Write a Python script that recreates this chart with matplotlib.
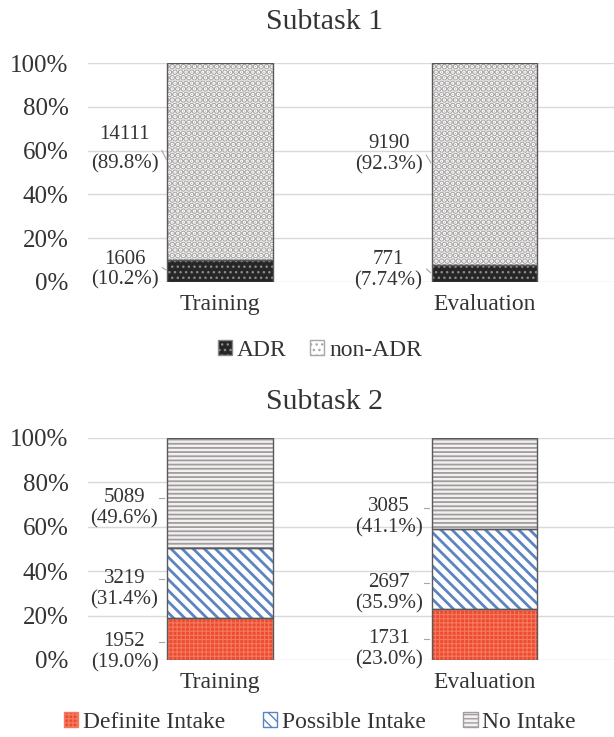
import numpy as np
import matplotlib
matplotlib.use("Agg")
import matplotlib.pyplot as plt
from matplotlib.patches import Patch
from matplotlib.ticker import PercentFormatter
from matplotlib.transforms import offset_copy

plt.rcParams['font.family'] = ['Liberation Serif', 'DejaVu Serif']

# Data
splits = ['Training', 'Evaluation']

# Subtask 1
adr_counts = [1606, 771]
nonadr_counts = [14111, 9190]
adr_pct = ['10.2%', '7.74%']
nonadr_pct = ['89.8%', '92.3%']

# Subtask 2
definite_counts = [1952, 1731]
possible_counts = [3219, 2697]
nointake_counts = [5089, 3085]
definite_pct = ['19.0%', '23.0%']
possible_pct = ['31.4%', '35.9%']
nointake_pct = ['49.6%', '41.1%']

TXT = '#333333'
GRID = '#d9d9d9'
OUTLINE = '#595959'
LEADER = '#a6a6a6'
BAR_W = 0.4

# fill styles: (face, hatch, hatch colour, hatch linewidth)
styles = {
    'ADR': ('#262626', '...', '#8a8a8a', 1.0),
    'non-ADR': ('white', '...', '#aba6a6', 3.2),
    'Definite Intake': ('#ef4b30', '++++', '#f47a5f', 0.8),
    'Possible Intake': ('white', '\\\\\\', '#5b84c0', 2.0),
    'No Intake': ('#f2f0f0', '----', '#a19d9d', 1.3),
}


def styled_bar(ax, x, h, bottom, name):
    face, hatch, hcol, hlw = styles[name]
    with plt.rc_context({'hatch.linewidth': hlw}):
        bars = ax.bar(x, h, BAR_W, bottom=bottom, color=face, hatch=hatch,
                      edgecolor=hcol, linewidth=0, zorder=2)
    for b in bars:
        if hasattr(b, 'set_hatch_linewidth'):
            b.set_hatch_linewidth(hlw)
    ax.bar(x, h, BAR_W, bottom=bottom, fill=False,
           edgecolor=OUTLINE, linewidth=1.0, zorder=3)


def draw_stack(ax, series, names, pct_labels, dy_pix, slanted, spacing):
    x = np.arange(len(splits))
    counts = np.array(series, dtype=float)
    share = counts / counts.sum(axis=0) * 100
    bottom = np.zeros(len(splits))
    for k, name in enumerate(names):
        styled_bar(ax, x, share[k], bottom, name)
        for i in range(len(splits)):
            mid = bottom[i] + share[k][i] / 2
            left = x[i] - BAR_W / 2
            arrow = None
            if slanted:
                arrow = dict(arrowstyle='-', color=LEADER, lw=0.8,
                             shrinkA=1, shrinkB=1, relpos=(1, 0.62))
            ax.annotate('%d\n(%s)' % (series[k][i], pct_labels[k][i]),
                        xy=(left, mid), xytext=(-9, dy_pix[k][i]),
                        textcoords='offset pixels',
                        ha='right', va='center', multialignment='center',
                        fontsize=15, color=TXT, linespacing=spacing[k][i],
                        arrowprops=arrow, zorder=4)
            if not slanted:
                # short leader dash next to the count
                tr1 = offset_copy(ax.transData, fig=ax.figure, x=-8,
                                  y=dy_pix[k][i] + 10, units='dots')
                tr2 = offset_copy(ax.transData, fig=ax.figure, x=-3,
                                  y=dy_pix[k][i] + 10, units='dots')
                p1 = tr1.transform((left, mid))
                p2 = tr2.transform((left, mid))
                ax.plot([p1[0], p2[0]], [p1[1], p2[1]], transform=None,
                        color=LEADER, lw=0.8, zorder=4)
        bottom += share[k]

    ax.set_xticks(x)
    ax.set_xticklabels(splits, fontsize=17, color=TXT)
    ax.set_yticks(np.arange(0, 101, 20))
    ax.yaxis.set_major_formatter(PercentFormatter(decimals=0))
    ax.tick_params(axis='y', length=0, pad=14, labelsize=18, labelcolor=TXT)
    ax.tick_params(axis='x', length=0, pad=9)
    ax.grid(axis='y', color=GRID, lw=1.0, zorder=0)
    ax.set_axisbelow(True)
    for s in ax.spines.values():
        s.set_visible(False)


def legend_handles(names):
    hs = []
    for name in names:
        face, hatch, hcol, hlw = styles[name]
        hs.append(Patch(facecolor=face, hatch=hatch, edgecolor=hcol, label=name))
    return hs


fig = plt.figure(figsize=(6.14, 7.37), dpi=100)

ax1 = fig.add_axes([0.1433, 0.6174, 0.8567, 0.2971])
ax2 = fig.add_axes([0.1433, 0.1045, 0.8567, 0.3012])
# pin the limits first so pixel offsets are stable
for a in (ax1, ax2):
    a.set_xlim(-0.5, 1.49)
    a.set_ylim(0, 100)

draw_stack(ax1, [adr_counts, nonadr_counts], ['ADR', 'non-ADR'],
           [adr_pct, nonadr_pct], [[1, 3], [12, 10]], True,
           [[1.15, 1.15], [1.7, 1.15]])
fig.text(0.529, 0.970, 'Subtask 1', ha='center', va='center', fontsize=21.5, color=TXT)
fig.legend(handles=legend_handles(['ADR', 'non-ADR']), loc='center',
           bbox_to_anchor=(0.521, 1 - 350 / 737), ncol=2, frameon=False,
           fontsize=17, handlelength=0.6, handleheight=0.6, handletextpad=0.2,
           columnspacing=1.0, labelcolor=TXT)

draw_stack(ax2, [definite_counts, possible_counts, nointake_counts],
           ['Definite Intake', 'Possible Intake', 'No Intake'],
           [definite_pct, possible_pct, nointake_pct],
           [[-13, -15], [-6, -24], [-15, -34]], False,
           [[1.15, 1.15], [1.15, 1.15], [1.15, 1.15]])
fig.text(0.529, 1 - 402 / 737, 'Subtask 2', ha='center', va='center', fontsize=21.5, color=TXT)
fig.legend(handles=legend_handles(['Definite Intake', 'Possible Intake', 'No Intake']),
           loc='center', bbox_to_anchor=(0.521, 1 - 722 / 737), ncol=3, frameon=False,
           fontsize=17, handlelength=0.6, handleheight=0.6, handletextpad=0.2,
           columnspacing=1.6, labelcolor=TXT)

fig.savefig('out.png', dpi=100)
